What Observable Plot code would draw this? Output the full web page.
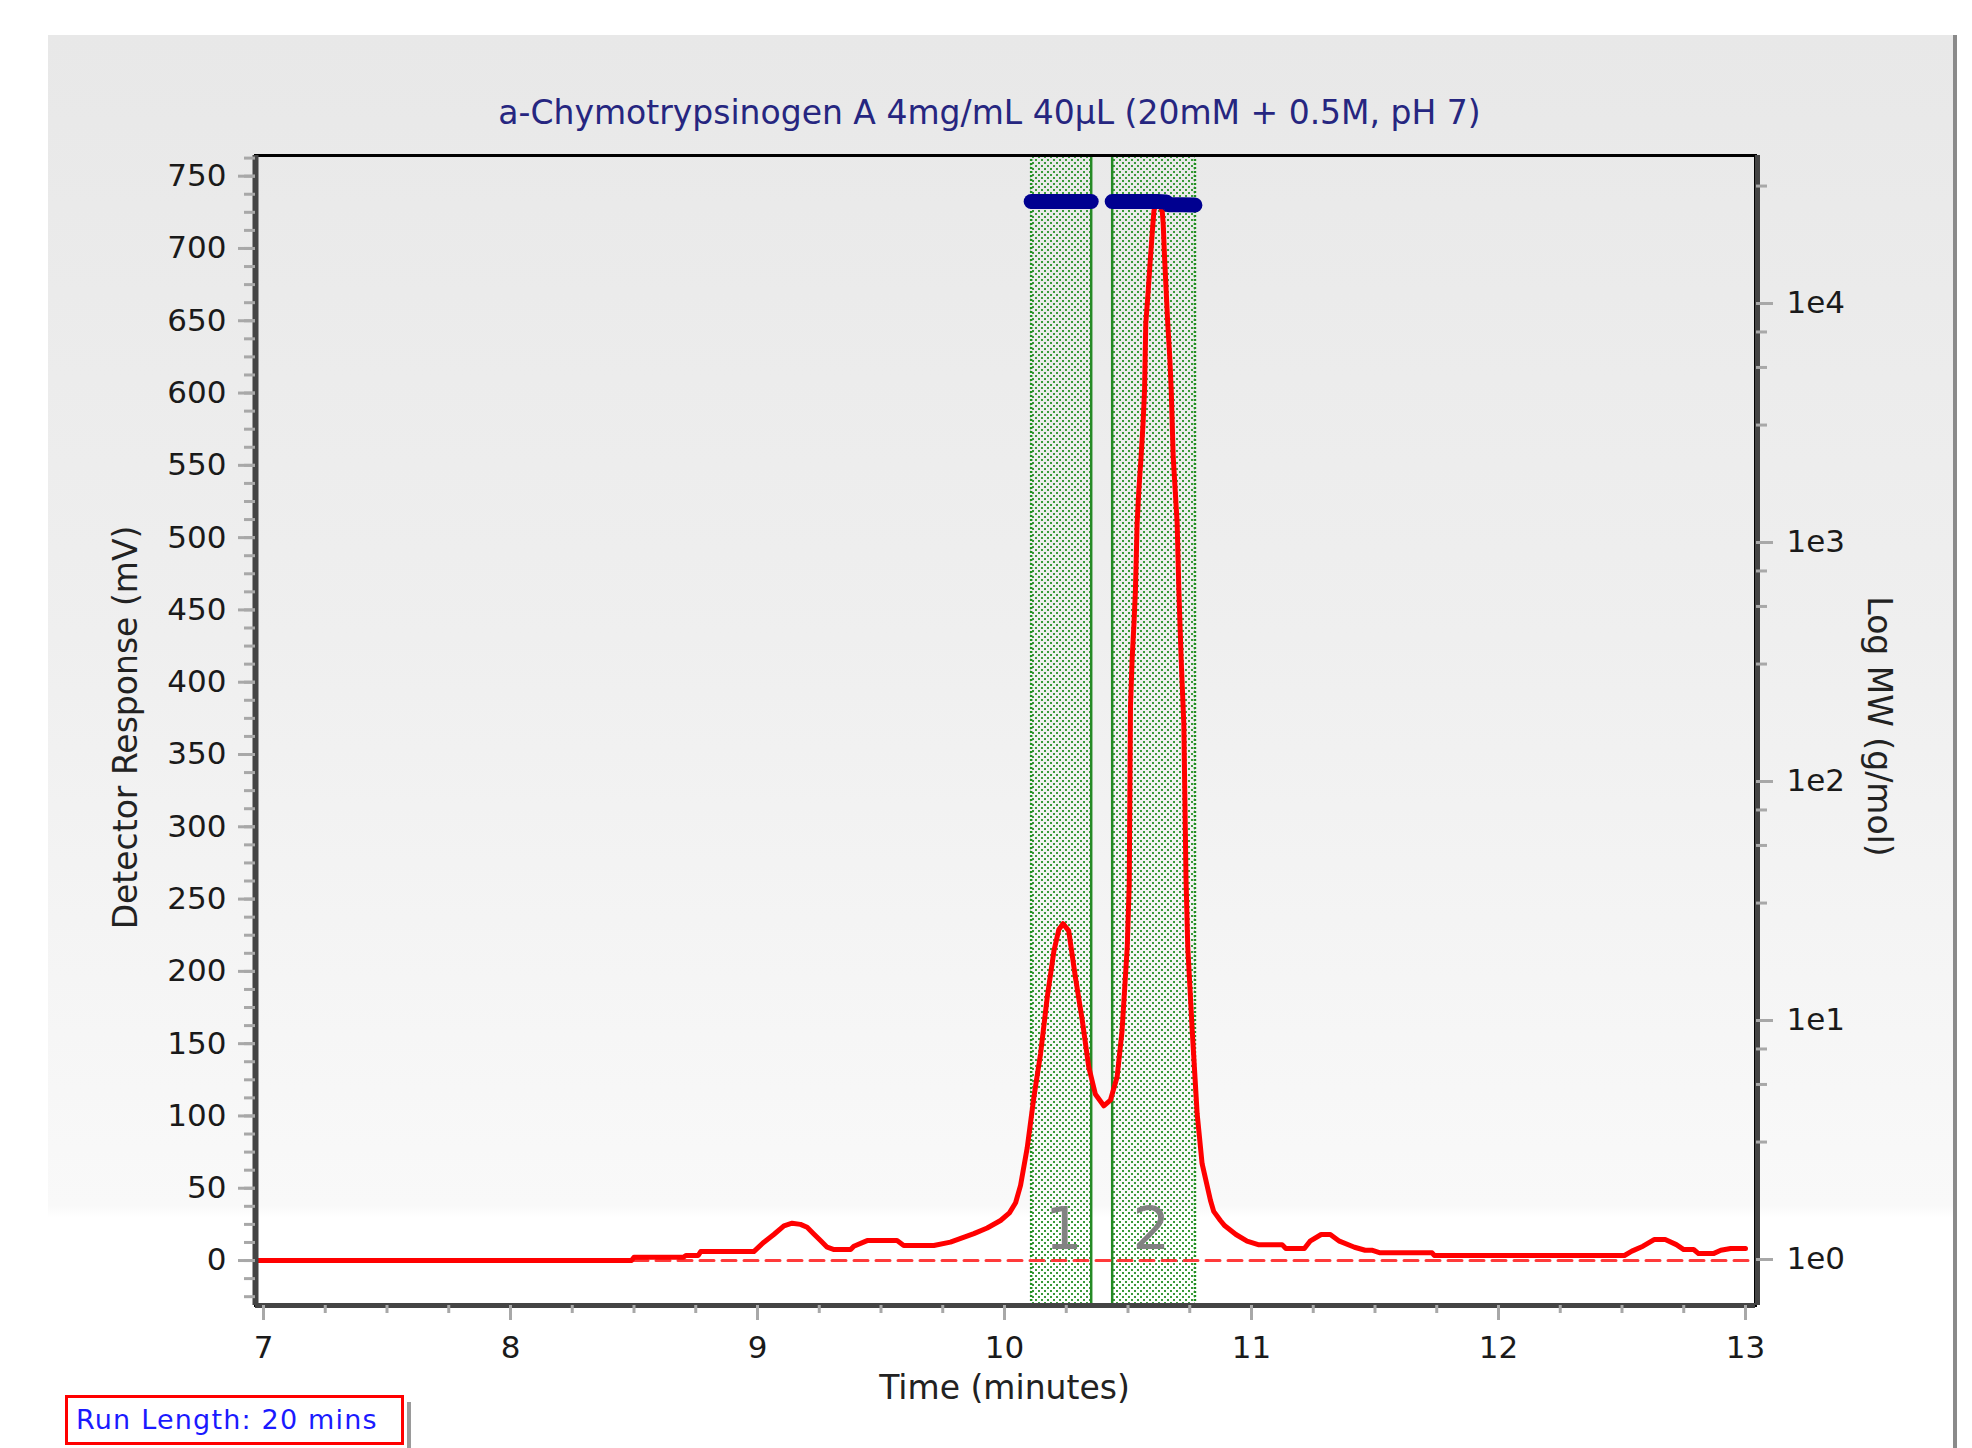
<!DOCTYPE html>
<html><head><meta charset="utf-8">
<script src="https://cdn.jsdelivr.net/npm/d3@7"></script>
<script src="https://cdn.jsdelivr.net/npm/@observablehq/plot@0.6"></script>
<style>
html,body{margin:0;padding:0;background:#fff;}
body{width:1972px;height:1448px;position:relative;overflow:hidden;font-family:"DejaVu Sans",Verdana,sans-serif;}
#panel{position:absolute;left:48px;top:35px;width:1905px;height:1413px;background:linear-gradient(to bottom,#e8e8e8 0px,#efefef 600px,#f9f9f9 1170px,#ffffff 1182px);border-right:4px solid #8a8a8a;}
#chart{position:absolute;left:0;top:0;}
#run{position:absolute;left:65px;top:1395px;width:325px;height:44px;border:3px solid #ff0000;background:#fff;color:#1a1aff;font-size:27px;line-height:44px;padding-left:8px;letter-spacing:1.2px;white-space:nowrap;}
#bar{position:absolute;left:407px;top:1402px;width:4px;height:46px;background:#9a9a9a;}
</style></head><body>
<div id="panel"></div><div id="chart"></div><div id="run">Run Length: 20 mins</div><div id="bar"></div>
<script>
// ---- data ----
const chartTitle = "a-Chymotrypsinogen A 4mg/mL 40µL (20mM + 0.5M, pH 7)";
const xTitle = "Time (minutes)";
const yTitle = "Detector Response (mV)";
const y2Title = "Log MW (g/mol)";

const traceTime = [6.97, 8.49, 8.50, 8.70, 8.71, 8.76, 8.77, 8.985, 9.026, 9.066, 9.107, 9.14, 9.174, 9.201, 9.228, 9.255, 9.282, 9.31, 9.377, 9.39, 9.444, 9.565, 9.592, 9.714, 9.781, 9.876, 9.93, 9.984, 10.02, 10.045, 10.065, 10.092, 10.119, 10.146, 10.173, 10.2, 10.22, 10.237, 10.26, 10.287, 10.315, 10.341, 10.368, 10.402, 10.429, 10.456, 10.476, 10.497, 10.505, 10.510, 10.517, 10.524, 10.530, 10.537, 10.544, 10.553, 10.561, 10.567, 10.572, 10.582, 10.591, 10.600, 10.605, 10.617, 10.6385, 10.6425, 10.648, 10.6545, 10.661, 10.669, 10.675, 10.683, 10.699, 10.706, 10.715, 10.726, 10.735, 10.742, 10.760, 10.780, 10.800, 10.834, 10.847, 10.874, 10.892, 10.937, 10.982, 11.027, 11.124, 11.139, 11.214, 11.237, 11.282, 11.319, 11.356, 11.417, 11.46, 11.49, 11.521, 11.731, 11.74, 12.51, 12.54, 12.585, 12.63, 12.675, 12.72, 12.75, 12.79, 12.81, 12.87, 12.90, 12.94, 13.0];
const traceMV = [0, 0, 2.3, 2.3, 3.5, 3.5, 6.2, 6.2, 12.7, 18, 24, 25.8, 25, 23, 18.4, 13.8, 9.2, 7.6, 7.6, 9.9, 13.8, 13.8, 10.4, 10.4, 12.7, 18.6, 22.5, 27.7, 33, 40, 52, 78, 113, 143, 182, 214, 229, 233, 228, 196, 166, 134, 115, 107, 111, 127, 159, 217, 260, 383, 417, 440, 463, 510, 533, 556, 579, 602, 648, 671, 694, 715, 726, 734, 726, 717, 694, 671, 648, 625, 602, 556, 510, 463, 417, 371, 263, 217, 159, 101.5, 67, 41.5, 34, 27.7, 24, 18, 13.4, 11, 11, 8.3, 8.3, 13.4, 18, 18, 13.4, 9.2, 7.1, 7.1, 5.3, 5.3, 3.5, 3.5, 6.5, 9.9, 14.5, 14.5, 11, 7.6, 7.6, 4.8, 4.8, 7.1, 8.3, 8.3];

const baselineTime = [8.5, 13.03];
const baselineMV = [0, 0];

const bandStart = [10.108, 10.436];
const bandEnd = [10.351, 10.771];
const bandLabels = ["1", "2"];
const bandLabelTime = [10.240, 10.594];
const bandLabelMV = [8, 8];

const mwTime1 = [10.108, 10.16, 10.22, 10.28, 10.351];
const mwValue1 = [26700, 26700, 26700, 26700, 26700];
const mwTime2 = [10.436, 10.50, 10.56, 10.62, 10.655, 10.665, 10.72, 10.771];
const mwValue2 = [26700, 26700, 26700, 26700, 26600, 25900, 25900, 25800];

const xMajor = [7, 8, 9, 10, 11, 12, 13];
const xMinor = d3.range(7, 13.001, 0.25);
const yMajor = d3.range(0, 751, 50);
const yMinor = d3.range(-25, 763, 12.5);
const rightMajorMW = [1, 10, 100, 1000, 10000];
const rightMajorLabels = ["1e0", "1e1", "1e2", "1e3", "1e4"];
const rightMinorMW = [3.1, 5.4, 7.6, 31, 54, 76, 310, 540, 760, 3100, 5400, 7600, 31000];

// ---- scales ----
const xDomain = [6.9676, 13.0405];
const yDomain = [-31.1, 764.3];
const mwScale = d3.scaleLog().domain([Math.pow(10, -0.1925), Math.pow(10, 4.6192)]).range(yDomain);

const trace = traceTime.map((t, i) => ({t, v: traceMV[i]}));
const baseline = baselineTime.map((t, i) => ({t, v: baselineMV[i]}));
const bands = bandStart.map((s, i) => ({s, e: bandEnd[i], lo: yDomain[0], hi: yDomain[1]}));
const labels = bandLabels.map((l, i) => ({l, t: bandLabelTime[i], v: bandLabelMV[i]}));
const mw = [
  ...mwTime1.map((t, i) => ({t, mw: mwValue1[i], g: 1})),
  ...mwTime2.map((t, i) => ({t, mw: mwValue2[i], g: 2}))
];
const rightMajorPos = rightMajorMW.map(m => mwScale(m));
const rightLabelMap = new Map(rightMajorPos.map((p, i) => [p, rightMajorLabels[i]]));
const rightMinorPos = rightMinorMW.map(m => mwScale(m));

const tickColor = "#a8a8a8";
const font = "DejaVu Sans, Verdana, sans-serif";

const plot = Plot.plot({
  width: 1972, height: 1448,
  marginLeft: 255, marginRight: 217, marginTop: 155, marginBottom: 143,
  x: {domain: xDomain},
  y: {domain: yDomain},
  style: {background: "transparent", fontFamily: font, fontSize: "31px", color: "#1a1a1a", overflow: "visible"},
  marks: [
    Plot.rect(bands, {x1: "s", x2: "e", y1: "lo", y2: "hi", fill: "url(#stip)"}),
    Plot.ruleX([bandStart[0], bandEnd[1]], {stroke: "#1f8f1f", strokeWidth: 2.5, strokeDasharray: "2,2"}),
    Plot.ruleX([bandEnd[0], bandStart[1]], {stroke: "#258a25", strokeWidth: 2.5}),
    Plot.line(baseline, {x: "t", y: "v", stroke: "#ff3a3a", strokeWidth: 3, strokeDasharray: "14,8"}),
    Plot.line(trace, {x: "t", y: "v", stroke: "#ff0000", strokeWidth: 5, strokeLinejoin: "round"}),
    Plot.line(mw, {x: "t", y: d => mwScale(d.mw), z: "g", stroke: "#000090", strokeWidth: 15, strokeLinecap: "round", strokeLinejoin: "round"}),
    Plot.text(labels, {x: "t", y: "v", text: "l", fontSize: 59, fill: "#828282", lineAnchor: "bottom"}),
    Plot.frame({stroke: "#000", strokeWidth: 3}),
    Plot.ruleX([xDomain[0]], {stroke: "#444", strokeWidth: 6}),
    Plot.ruleY([yDomain[0]], {stroke: "#444", strokeWidth: 5}),
    Plot.ruleX([xDomain[1]], {stroke: "#444", strokeWidth: 5, dx: 2}),
    Plot.axisX({ticks: xMinor, tickSize: 8, stroke: tickColor, strokeWidth: 3, tickFormat: () => "", label: null}),
    Plot.axisX({ticks: xMajor, tickSize: 15, tickPadding: 15, stroke: tickColor, strokeWidth: 3, fill: "#1a1a1a", fontSize: 31, tickFormat: d3.format("d"), label: null}),
    Plot.axisY({anchor: "left", ticks: yMinor, tickSize: 11, stroke: tickColor, strokeWidth: 3, tickFormat: () => "", label: null}),
    Plot.axisY({anchor: "left", ticks: yMajor, tickSize: 17, tickPadding: 12, stroke: tickColor, strokeWidth: 3, fill: "#1a1a1a", fontSize: 31, tickFormat: d3.format("d"), label: null}),
    Plot.axisY({anchor: "right", ticks: rightMinorPos, tickSize: 11, stroke: tickColor, strokeWidth: 3, tickFormat: () => "", label: null}),
    Plot.axisY({anchor: "right", ticks: rightMajorPos, tickSize: 17, tickPadding: 14, stroke: tickColor, strokeWidth: 3, fill: "#1a1a1a", fontSize: 31, tickFormat: d => rightLabelMap.get(d), label: null}),
    Plot.text([chartTitle], {text: d => d, frameAnchor: "top", dx: -16, dy: -42, fontSize: 33, fill: "#262680", lineAnchor: "middle", textAnchor: "middle"}),
    Plot.text([xTitle], {text: d => d, frameAnchor: "bottom", dx: -1, dy: 83, fontSize: 33, fill: "#222", lineAnchor: "middle", textAnchor: "middle"}),
    Plot.text([yTitle], {text: d => d, frameAnchor: "left", dx: -129, dy: -3, rotate: -90, fontSize: 33, fill: "#222", lineAnchor: "middle", textAnchor: "middle"}),
    Plot.text([y2Title], {text: d => d, frameAnchor: "right", dx: 123, dy: -4, rotate: 90, fontSize: 33, fill: "#222", lineAnchor: "middle", textAnchor: "middle"})
  ]
});

const defs = d3.select(plot).insert("defs", ":first-child");
const pat = defs.append("pattern").attr("id", "stip").attr("width", 6).attr("height", 6).attr("patternUnits", "userSpaceOnUse");
pat.append("rect").attr("x", 0).attr("y", 0).attr("width", 2).attr("height", 2).attr("fill", "#3a9a3a");
pat.append("rect").attr("x", 3).attr("y", 3).attr("width", 2).attr("height", 2).attr("fill", "#3a9a3a");

document.getElementById("chart").appendChild(plot);
</script></body></html>
